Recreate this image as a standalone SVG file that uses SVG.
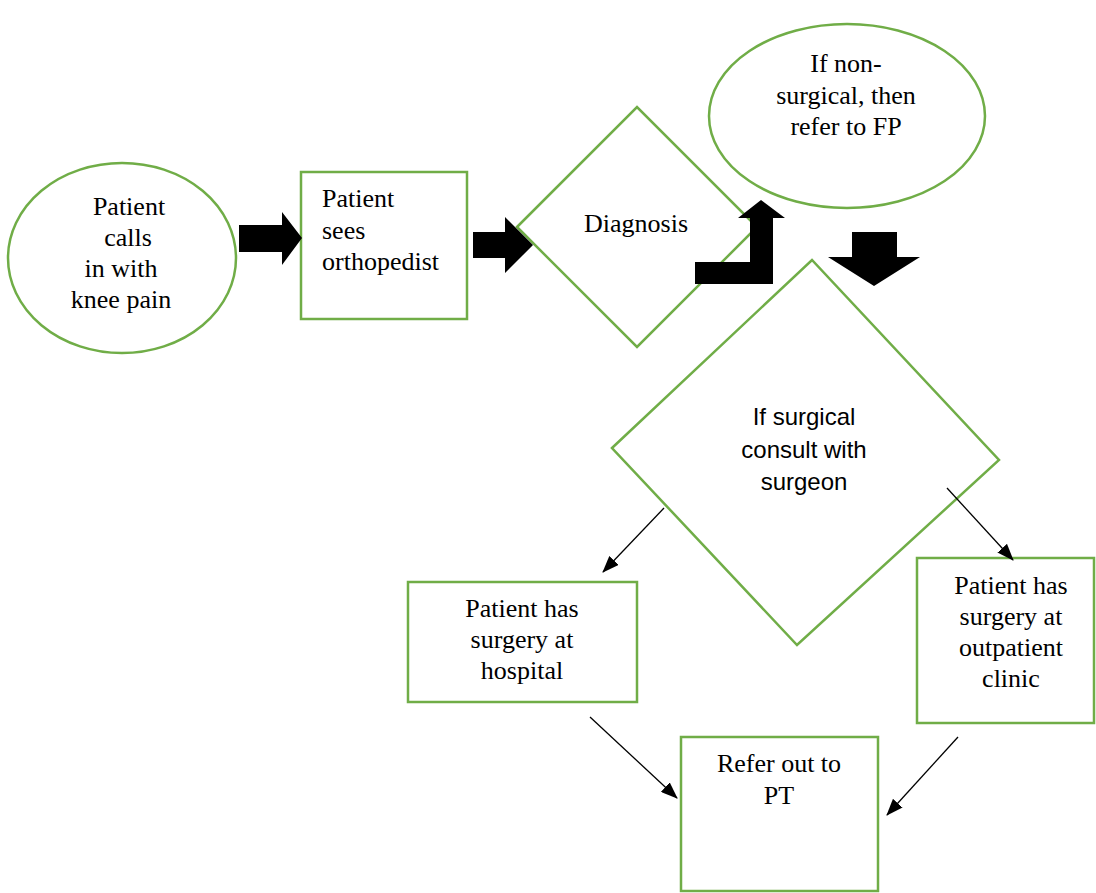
<svg xmlns="http://www.w3.org/2000/svg" width="1096" height="893" viewBox="0 0 1096 893">
<defs>
<style>
.n{fill:#fff;stroke:#70AD47;stroke-width:2.5}
.t{font-family:"Liberation Serif","Times New Roman",serif;font-size:26px;fill:#000}
.s{font-family:"Liberation Sans",Arial,sans-serif;font-size:24px;fill:#000}
.c{text-anchor:middle}
.blk{fill:#000}
.ln{stroke:#000;stroke-width:1.3;fill:none;marker-end:url(#ah)}
</style>
<marker id="ah" markerWidth="17" markerHeight="13" refX="16" refY="6.5" orient="auto" markerUnits="userSpaceOnUse" viewBox="0 0 17 13">
<path d="M0,0 L17,6.5 L0,13 z" fill="#000"/>
</marker>
</defs>
<rect width="1096" height="893" fill="#fff"/>

<g id="n1">
<ellipse class="n" cx="122" cy="258" rx="114" ry="95"/>
<text class="t c" x="129" y="215">Patient</text>
<text class="t c" x="128" y="246">calls</text>
<text class="t c" x="121" y="277">in with</text>
<text class="t c" x="121" y="308">knee pain</text>
</g>

<g id="n2">
<rect class="n" x="301" y="172" width="166" height="147"/>
<text class="t" x="322" y="207">Patient</text>
<text class="t" x="322" y="239">sees</text>
<text class="t" x="322" y="270">orthopedist</text>
</g>

<g id="n3">
<polygon class="n" points="517,227 637,107 757,227 637,347"/>
<text class="t c" x="636" y="232">Diagnosis</text>
</g>

<g id="n4">
<ellipse class="n" cx="847" cy="116" rx="138" ry="92"/>
<text class="t c" x="846" y="72">If non-</text>
<text class="t c" x="846" y="104">surgical, then</text>
<text class="t c" x="846" y="135">refer to FP</text>
</g>

<g id="n5">
<polygon class="n" points="612,448 812,260 999,460 797,645"/>
<text class="s c" x="804" y="425">If surgical</text>
<text class="s c" x="804" y="458">consult with</text>
<text class="s c" x="804" y="490">surgeon</text>
</g>

<g id="n6">
<rect class="n" x="408" y="582" width="229" height="120"/>
<text class="t c" x="522" y="617">Patient has</text>
<text class="t c" x="522" y="648">surgery at</text>
<text class="t c" x="522" y="679">hospital</text>
</g>

<g id="n7">
<rect class="n" x="917" y="558" width="177" height="165"/>
<text class="t c" x="1011" y="594">Patient has</text>
<text class="t c" x="1011" y="625">surgery at</text>
<text class="t c" x="1011" y="656">outpatient</text>
<text class="t c" x="1011" y="687">clinic</text>
</g>

<g id="n8">
<rect class="n" x="681" y="737" width="197" height="154"/>
<text class="t c" x="779" y="772">Refer out to</text>
<text class="t c" x="779" y="804">PT</text>
</g>

<g id="connectors">
<polygon class="blk" points="239,225 282,225 282,212 302,238 282,265 282,252 239,252"/>
<polygon class="blk" points="473,232 505,232 505,217 533,245 505,273 505,258 473,258"/>
<polygon class="blk" points="695,262 750,262 750,218 738,218 761,200 785,218 773,218 773,284 695,284"/>
<polygon class="blk" points="852,232 897,232 897,257 920,257 874,286 828,257 852,257"/>
<line class="ln" x1="664" y1="508" x2="603" y2="572"/>
<line class="ln" x1="947" y1="488" x2="1013" y2="560"/>
<line class="ln" x1="590" y1="717" x2="677" y2="798"/>
<line class="ln" x1="958" y1="737" x2="887" y2="815"/>
</g>
</svg>
